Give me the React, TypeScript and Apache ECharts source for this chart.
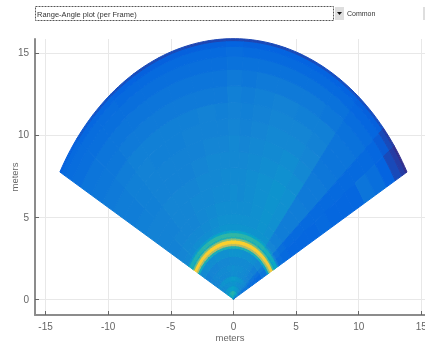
import React, { useEffect, useRef } from "react";
import * as echarts from "echarts";

// Polar heat map: ranges in metres, angles in degrees from the y axis (values 0..100 of the colour scale)
const rangeEdges = [0, .25, .5, .8, 1.1, 1.4, 1.7, 2.1, 2.6, 3.1, 3.25, 3.38, 3.6, 3.72, 3.82, 4.05, 4.2, 4.6, 5.2, 6, 7, 8, 9, 10, 11, 12, 13, 14, 14.8, 15.4, 15.75, 15.87];
const angleEdges = [-60.8, -52, -45, -38, -30, -22, -14, -7, -2, 3, 8, 15, 24, 32, 39, 49, 54, 60.8];

const sectorL1 = [34, 36, 30, 26, 28, 25, 25, 24, 27, 40, 66, 86, 56, 39, 42, 32, 26, 25, 24, 24, 24, 23, 22, 22, 21, 20, 19, 17, 16, 15, 12];
const sectorL2 = [36, 38, 31, 27, 29, 25, 26, 25, 28, 41, 67, 86, 57, 40, 44, 33, 27, 26, 25, 24, 24, 23, 23, 23, 22, 20, 19, 17, 16, 14, 10];
const sectorL3 = [38, 40, 32, 28, 30, 26, 26, 25, 28, 42, 67, 86, 58, 41, 45, 33, 28, 26, 25, 25, 25, 24, 24, 24, 23, 21, 19, 17, 16, 14, 9];
const sectorL4 = [39, 42, 33, 28, 30, 26, 27, 25, 28, 42, 68, 87, 58, 42, 46, 34, 28, 26, 25, 25, 25, 24, 24, 23, 23, 21, 19, 17, 15, 13, 8];
const sectorL5 = [40, 43, 34, 29, 31, 26, 27, 26, 29, 42, 68, 87, 59, 42, 47, 35, 28, 27, 26, 26, 25, 24, 24, 23, 23, 21, 19, 17, 15, 12, 7];
const sectorL6 = [41, 44, 35, 29, 31, 27, 27, 26, 29, 43, 69, 88, 60, 43, 47, 36, 29, 28, 27, 26, 26, 25, 24, 24, 23, 21, 19, 17, 15, 12, 7];
const sectorL7 = [42, 45, 35, 30, 32, 27, 28, 26, 29, 43, 69, 88, 61, 43, 48, 36, 30, 29, 28, 27, 26, 26, 25, 24, 24, 21, 19, 17, 15, 12, 6];
const sectorC1 = [43, 46, 36, 30, 33, 28, 28, 27, 30, 44, 70, 88, 61, 44, 48, 37, 30, 29, 28, 27, 27, 26, 25, 24, 23, 21, 19, 17, 15, 12, 6];
const sectorC2 = [44, 46, 36, 31, 33, 28, 29, 27, 30, 44, 70, 89, 62, 44, 48, 37, 30, 29, 28, 28, 27, 26, 26, 25, 24, 23, 21, 18, 16, 13, 6];
const sectorR1 = [42, 45, 35, 30, 33, 28, 28, 27, 30, 44, 70, 88, 61, 44, 48, 37, 30, 29, 28, 27, 27, 26, 25, 24, 23, 22, 20, 18, 15, 12, 6];
const sectorR2 = [41, 44, 34, 30, 32, 28, 28, 27, 30, 43, 69, 88, 60, 43, 47, 37, 30, 29, 28, 28, 28, 27, 26, 25, 24, 23, 21, 18, 15, 13, 7];
const sectorR3 = [39, 42, 33, 29, 31, 27, 28, 27, 29, 43, 69, 87, 59, 43, 47, 36, 30, 29, 29, 29, 29, 28, 27, 26, 25, 24, 21, 18, 15, 13, 7];
const sectorR4 = [37, 40, 32, 28, 30, 27, 27, 27, 29, 42, 68, 87, 58, 42, 46, 36, 30, 30, 30, 30, 30, 29, 28, 26, 25, 23, 21, 18, 15, 13, 8];
const sectorR5 = [35, 38, 31, 28, 29, 26, 26, 26, 28, 42, 68, 86, 57, 41, 45, 35, 30, 29, 29, 29, 29, 28, 26, 25, 24, 23, 20, 18, 15, 13, 8];
const sectorR6 = [30, 33, 28, 26, 27, 25, 24, 23, 26, 40, 66, 85, 55, 38, 42, 30, 25, 23, 22, 22, 22, 21, 21, 20, 19, 19, 18, 16, 14, 12, 8];
const sectorR7 = [26, 29, 24, 22, 23, 20, 19, 18, 22, 37, 64, 84, 52, 36, 40, 25, 19, 17, 15, 15, 15, 15, 15, 15, 15, 15, 15, 14, 11, 7, 4];
const sectorR8 = [22, 26, 21, 19, 20, 17, 16, 15, 19, 35, 62, 83, 50, 34, 38, 23, 17, 15, 14, 14, 14, 15, 14, 14, 14, 19, 17, 13, 7, 4, 1];
const sectors = [sectorL1, sectorL2, sectorL3, sectorL4, sectorL5, sectorL6, sectorL7, sectorC1, sectorC2, sectorR1, sectorR2, sectorR3, sectorR4, sectorR5, sectorR6, sectorR7, sectorR8];

const xTicks = [-15, -10, -5, 0, 5, 10, 15];
const yTicks = [0, 5, 10, 15];
const parula = ["#352a87", "#0363e1", "#1485d4", "#06a7c6", "#38b99e", "#92bf73", "#d9ba56", "#fcce2e", "#f9fb0e"];

const axisGrey = "#666666";
const gridGrey = "#e8e8e8";

function buildCells() {
  const cells: number[][] = [];
  sectors.forEach((row, a) => {
    row.forEach((v, r) => {
      cells.push([rangeEdges[r], rangeEdges[r + 1], angleEdges[a], angleEdges[a + 1], v]);
    });
  });
  return cells;
}

function renderCell(_: any, api: any) {
  const r0 = api.value(0), r1 = api.value(1), a0 = api.value(2), a1 = api.value(3);
  const steps = Math.max(2, Math.ceil((a1 - a0) / 1.5));
  const pts: number[][] = [];
  const toPoint = (r: number, deg: number) => {
    const t = (deg * Math.PI) / 180;
    return api.coord([r * Math.sin(t), r * Math.cos(t)]);
  };
  for (let i = 0; i <= steps; i++) pts.push(toPoint(r1, a0 + ((a1 - a0) * i) / steps));
  for (let i = steps; i >= 0; i--) pts.push(toPoint(r0, a0 + ((a1 - a0) * i) / steps));
  const color = api.visual("color");
  return { type: "polygon", shape: { points: pts }, style: { fill: color, stroke: color, lineWidth: 1 } };
}

export default function App() {
  const ref = useRef<HTMLDivElement>(null);
  useEffect(() => {
    document.body.style.margin = "0";
    const chart = echarts.init(ref.current!, null, { renderer: "svg" });
    const labelFont = { color: axisGrey, fontFamily: "Liberation Sans", fontSize: 10 };
    chart.setOption({
      animation: false,
      backgroundColor: "#ffffff",
      grid: { left: 35, right: 0, top: 39, bottom: 28, outerBoundsMode: "none" },
      xAxis: {
        type: "value", min: -15.84, max: 15.29,
        name: "meters", nameLocation: "middle", nameGap: 17, nameMoveOverlap: false,
        nameTextStyle: { ...labelFont, fontSize: 9.5 },
        axisLine: { show: true, onZero: false, lineStyle: { color: "#8c8c8c", width: 2 } },
        axisTick: { show: true, inside: true, length: 4, customValues: xTicks, lineStyle: { color: axisGrey } },
        axisLabel: { ...labelFont, margin: 6, customValues: xTicks },
        splitLine: { show: true, lineStyle: { color: gridGrey, width: 1 } },
      },
      yAxis: {
        type: "value", min: -0.97, max: 15.85,
        name: "meters", nameLocation: "middle", nameGap: 16, nameMoveOverlap: false,
        nameTextStyle: { ...labelFont, fontSize: 9.5 },
        axisLine: { show: true, onZero: false, lineStyle: { color: "#8c8c8c", width: 2 } },
        axisTick: { show: true, inside: true, length: 4, customValues: yTicks, lineStyle: { color: axisGrey } },
        axisLabel: { ...labelFont, margin: 6, customValues: yTicks },
        splitLine: { show: true, lineStyle: { color: gridGrey, width: 1 } },
      },
      visualMap: { show: false, type: "continuous", dimension: 4, min: 0, max: 100, seriesIndex: 0, inRange: { color: parula } },
      series: [{
        type: "custom", coordinateSystem: "cartesian2d", renderItem: renderCell,
        data: buildCells(), encode: { x: 0, y: 2 }, silent: true, clip: false, z: 3,
      }],
      graphic: [
        { type: "rect", shape: { x: 35.5, y: 6.5, width: 298, height: 14 }, style: { fill: "#ffffff", stroke: "#555555", lineWidth: 1, lineDash: [2, 1] } },
        { type: "text", x: 37, y: 10, style: { text: "Range-Angle plot (per Frame)", fill: "#333333", fontFamily: "Liberation Sans", fontSize: 7.5 } },
        { type: "rect", shape: { x: 335, y: 7, width: 9, height: 13 }, style: { fill: "#dedede" } },
        { type: "polygon", shape: { points: [[337, 12], [342, 12], [339.5, 15]] }, style: { fill: "#111111" } },
        { type: "text", x: 347, y: 10, style: { text: "Common", fill: "#333333", fontFamily: "Liberation Sans", fontSize: 7 } },
        { type: "rect", shape: { x: 423, y: 7, width: 2, height: 13 }, style: { fill: "#dedede" } },
      ],
    });
    return () => chart.dispose();
  }, []);
  return <div ref={ref} style={{ width: 425, height: 343, filter: "blur(0.4px)" }} />;
}
